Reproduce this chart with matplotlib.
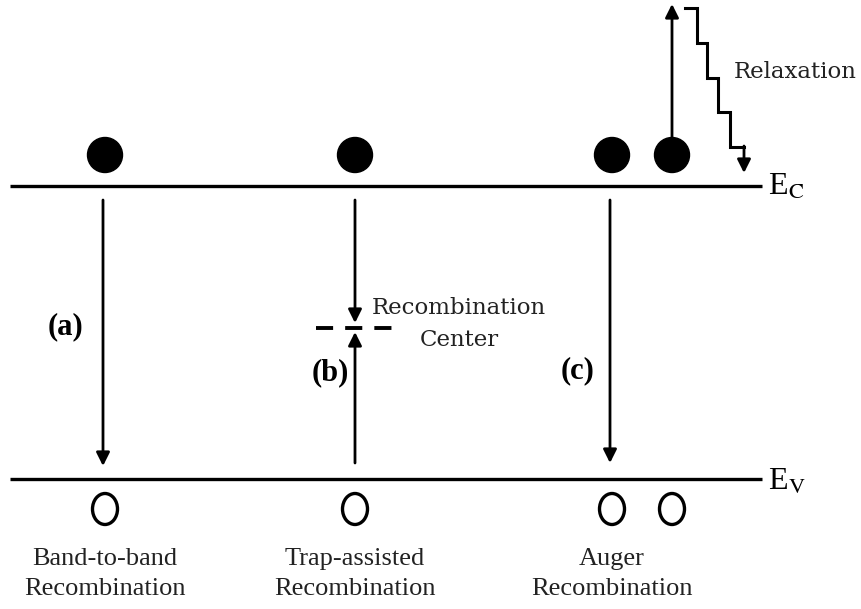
import matplotlib
matplotlib.use("Agg")
import matplotlib.pyplot as plt
from matplotlib.patches import Ellipse, Circle, FancyArrowPatch

plt.rcParams['mathtext.fontset'] = 'stix'

W, H = 862, 609
fig = plt.figure(figsize=(W / 100, H / 100), dpi=100)
ax = fig.add_axes([0, 0, 1, 1])
ax.set_xlim(0, W)
ax.set_ylim(H, 0)
ax.axis('off')

# Band levels
ec_y, ev_y = 186, 479
band_x = [10, 762]

# Process columns
columns = [105, 355, 612]
column_names = ["Band-to-band\nRecombination", "Trap-assisted\nRecombination", "Auger\nRecombination"]
letters = ["(a)", "(b)", "(c)"]
letter_pos = [(66, 327), (330, 373), (578, 371)]

electrons_x = [105, 355, 612, 672]
holes_x = [105, 355, 612, 672]
electron_y, hole_y = 155, 509

trap_y = 328
trap_x = [316, 392]

relax_steps_x = [685, 697, 707, 718, 730, 744]
relax_steps_y = [8, 43, 78, 112, 147]

serif = 'Liberation Serif'
label_font = 'DejaVu Serif'

# band lines
for y in (ec_y, ev_y):
    ax.plot(band_x, [y, y], color='black', lw=2.4, solid_capstyle='butt')

ax.text(768, ec_y + 1, r'E$_{\mathrm{C}}$', fontsize=23, family=serif, va='center', ha='left')
ax.text(768, ev_y + 3, r'E$_{\mathrm{V}}$', fontsize=23, family=serif, va='center', ha='left')

# electrons
for x in electrons_x:
    ax.add_patch(Circle((x, electron_y), 17.5, color='black'))
# holes
for x in holes_x:
    ax.add_patch(Ellipse((x, hole_y), 25, 31, fill=False, edgecolor='black', lw=2.4))

def arrow(x0, y0, x1, y1):
    ax.add_patch(FancyArrowPatch((x0, y0), (x1, y1), arrowstyle='-|>,head_length=8,head_width=4',
                                 mutation_scale=1, lw=2.0, color='black', shrinkA=0, shrinkB=0))

# (a)
arrow(103, 200, 103, 466)
# (b)
arrow(355, 200, 355, 323)
arrow(355, 463, 355, 332)
# (c)
arrow(610, 200, 610, 463)
# Auger excitation
arrow(672, 137, 672, 4)

# trap level
ax.plot(trap_x, [trap_y, trap_y], color='black', lw=2.8, linestyle=(0, (4.4, 3.1)), solid_capstyle='butt', dash_capstyle='butt')

# relaxation staircase
px, py = [relax_steps_x[0]], [relax_steps_y[0]]
for i, ys in enumerate(relax_steps_y):
    xs = relax_steps_x[i + 1]
    px.append(xs); py.append(ys)
    if i + 1 < len(relax_steps_y):
        px.append(xs); py.append(relax_steps_y[i + 1])
ax.plot(px, py, color='black', lw=2.2, solid_joinstyle='miter')
arrow(relax_steps_x[-1], relax_steps_y[-1] - 1, relax_steps_x[-1], 173)

# texts
for (x, y), t in zip(letter_pos, letters):
    ax.text(x, y, t, fontsize=22, family=serif, weight='bold', ha='center', va='center')

ax.text(459, 308, "Recombination", fontsize=16.5, family=label_font, ha='center', va='center', color='#222222')
ax.text(459, 340, "Center", fontsize=16.5, family=label_font, ha='center', va='center', color='#222222')
ax.text(795, 72, "Relaxation", fontsize=16.5, family=label_font, ha='center', va='center', color='#222222')

for x, t in zip(columns, column_names):
    ax.text(x, 574, t, fontsize=19, family=serif, ha='center', va='center', linespacing=1.45, color='#222222')

fig.savefig("out.png", dpi=100)
